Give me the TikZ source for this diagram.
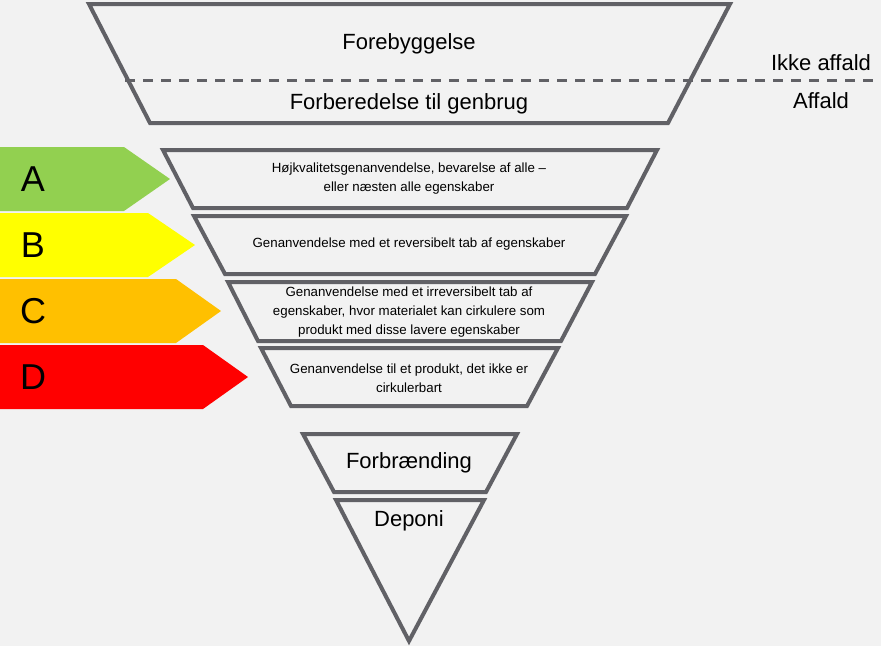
\documentclass[tikz,border=0pt]{standalone}
\usepackage{fontspec}
\setmainfont{Liberation Sans}
\usepackage{xcolor}

\definecolor{rim}{HTML}{616166}
\definecolor{paper}{HTML}{F2F2F2}
\definecolor{gradeA}{HTML}{92D050}
\definecolor{gradeB}{HTML}{FFFF00}
\definecolor{gradeC}{HTML}{FFC000}
\definecolor{gradeD}{HTML}{FF0000}

\begin{document}
\begin{tikzpicture}[x=1pt,y=-1pt]
\tikzstyle{every node}+=[inner sep=0pt,align=center,text=black]
\tikzstyle{tier}=[draw=rim,line width=4pt,line join=miter]
\tikzstyle{big}=[font=\fontsize{22}{26}\selectfont]
\tikzstyle{small}=[font=\fontsize{13.3}{19}\selectfont]
\tikzstyle{letter}=[font=\fontsize{36}{40}\selectfont]
\fill [paper] (0,0) rectangle (881,646);
\useasboundingbox (0,0) rectangle (881,646);
% top part
\draw [tier] (89,4) -- (730,4) -- (668,123) -- (150,123) -- cycle;
\coordinate (cutL) at (125,80);
\coordinate (cutR) at (881,80);
\draw [rim,line width=3pt,dash pattern=on 10pt off 8pt] (cutL) -- (cutR);
\node [big] (forebyg) at (409,44) {Forebyggelse};
\node [big] (forbered) at (409,104) {Forberedelse til genbrug};
\node [big] (ikke) at (821,63) {Ikke affald};
\node [big] (affald) at (821,101) {Affald};
% grades
\fill [gradeA] (0,147) -- (124,147) -- (170,179) -- (124,211) -- (0,211) -- cycle;
\fill [gradeB] (0,213) -- (148,213) -- (195,245) -- (148,277) -- (0,277) -- cycle;
\fill [gradeC] (0,279) -- (176,279) -- (221,311) -- (176,343) -- (0,343) -- cycle;
\fill [gradeD] (0,345) -- (203,345) -- (248,377) -- (203,409) -- (0,409) -- cycle;
\node [letter] (letA) at (33,179) {A};
\node [letter] (letB) at (33,245) {B};
\node [letter] (letC) at (33,311) {C};
\node [letter] (letD) at (33,377) {D};
% recycling tiers
\draw [tier] (163,150) -- (657,150) -- (627,208) -- (193,208) -- cycle;
\draw [tier] (194,216) -- (626,216) -- (595,274) -- (225,274) -- cycle;
\draw [tier] (228,282) -- (592,282) -- (561,341) -- (258,341) -- cycle;
\draw [tier] (261,348) -- (558,348) -- (527,406) -- (291,406) -- cycle;
\node [small] (tierA) at (409,179) {Højkvalitetsgenanvendelse, bevarelse af alle –\\eller næsten alle egenskaber};
\node [small] (tierB) at (409,244) {Genanvendelse med et reversibelt tab af egenskaber};
\node [small] (tierC) at (409,312) {Genanvendelse med et irreversibelt tab af\\egenskaber, hvor materialet kan cirkulere som\\produkt med disse lavere egenskaber};
\node [small] (tierD) at (409,378) {Genanvendelse til et produkt, det ikke er\\cirkulerbart};
% bottom
\draw [tier] (303,434) -- (517,434) -- (486,492) -- (334,492) -- cycle;
\draw [tier] (336,500) -- (484,500) -- (409,641) -- cycle;
\node [big] (forbraend) at (409,463) {Forbrænding};
\node [big] (deponi) at (409,521) {Deponi};
\end{tikzpicture}
\end{document}
